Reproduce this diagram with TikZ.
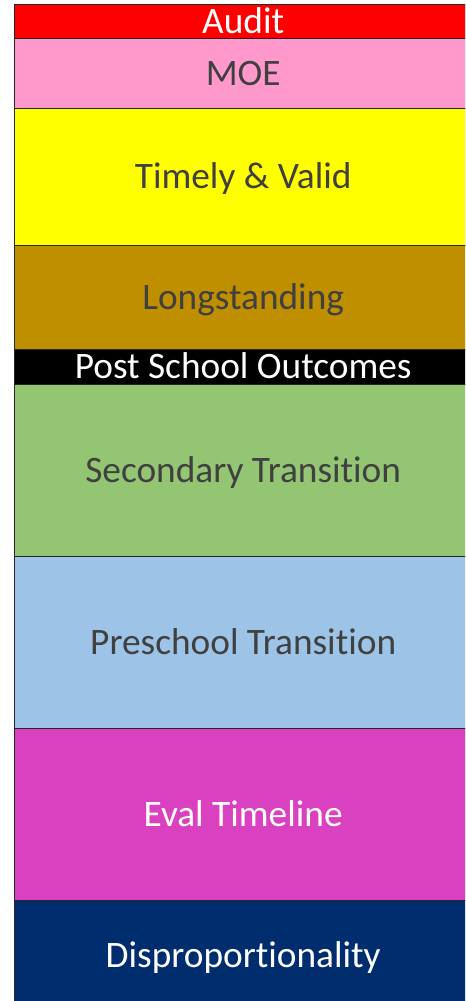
\documentclass[tikz,border=0pt]{standalone}
\usepackage{fontspec}
\setmainfont{Carlito}[Ligatures=CommonOff]
\usetikzlibrary{positioning}

\definecolor{auditred}{HTML}{FF0000}
\definecolor{moepink}{HTML}{FF99CC}
\definecolor{validyellow}{HTML}{FFFF00}
\definecolor{longbrown}{HTML}{BF8F00}
\definecolor{secgreen}{HTML}{93C572}
\definecolor{preblue}{HTML}{9DC3E6}
\definecolor{evalmagenta}{HTML}{D941C0}
\definecolor{dispnavy}{HTML}{002D6E}
\definecolor{darktext}{HTML}{404040}

\begin{document}
\begin{tikzpicture}
	\tikzstyle{band}=[rectangle,draw=black!85,line width=0.75pt,inner sep=0pt,outer sep=0pt,minimum width=343pt,text height=18pt,text depth=0pt,font=\fontsize{28}{31}\selectfont,text=darktext]
	\tikzstyle{lightband}=[band,text=white]

	\useasboundingbox (0,0) rectangle (348.75pt,-750.75pt);
	\clip (0,0) rectangle (348.75pt,-750.75pt);

	\node[lightband,fill=auditred,minimum height=25.9pt,anchor=north west] (audit) at (10.9pt,-3pt) {Audit};
	\node[band,fill=moepink,minimum height=52.1pt,below=0pt of audit] (moe) {MOE};
	\node[band,fill=validyellow,minimum height=102.75pt,below=0pt of moe] (valid) {Timely \& Valid};
	\node[band,fill=longbrown,minimum height=78pt,below=0pt of valid] (long) {Longstanding};
	\node[lightband,fill=black,minimum height=26.25pt,below=0pt of long] (pso) {Post School Outcomes};
	\node[band,fill=secgreen,minimum height=129pt,below=0pt of pso] (sec) {Secondary Transition};
	\node[band,fill=preblue,minimum height=129pt,below=0pt of sec] (pre) {Preschool Transition};
	\node[lightband,fill=evalmagenta,minimum height=129pt,below=0pt of pre] (eval) {Eval Timeline};
	\node[lightband,fill=dispnavy,minimum height=82.5pt,below=0pt of eval] (disp) {Disproportionality};
\end{tikzpicture}
\end{document}
